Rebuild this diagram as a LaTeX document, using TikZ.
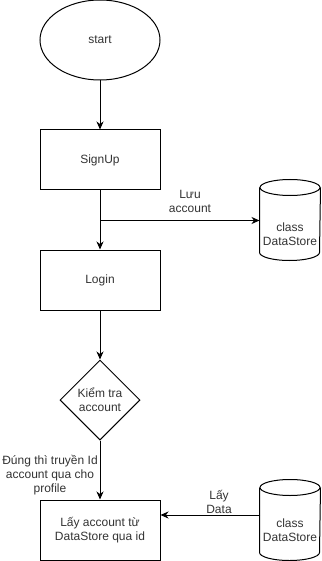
\documentclass[tikz,border=0pt]{standalone}
\usepackage{fontspec}
\setmainfont{Liberation Sans}
\usetikzlibrary{arrows.meta,shapes.geometric}
\begin{document}
\begin{tikzpicture}[x=1pt,y=1pt,
  font=\fontsize{12}{14}\selectfont,
  line width=1pt,
  every node/.style={align=center, text=black!80},
  box/.style={draw=black, text=black!80, minimum width=120pt, minimum height=60pt, inner sep=0pt},
  startshape/.style={draw=black, ellipse, minimum width=120pt, minimum height=80pt, inner sep=0pt},
  decision/.style={draw=black, diamond, minimum width=80pt, minimum height=80pt, inner sep=0pt, aspect=1},
  dbarea/.style={minimum width=60pt, minimum height=80pt, inner sep=0pt},
  flow/.style={-{Stealth[length=8pt,width=7pt,inset=2.5pt]}, draw=black},
  lbl/.style={inner sep=0pt}
]
\useasboundingbox (0,0) rectangle (321,-561);

% flow steps
\node[startshape] (start) at (100,-40) {start};
\node[box] (signup) at (100,-160) {SignUp};
\node[box] (login) at (100,-280) {Login};
\node[decision] (check) at (100,-400) {Kiểm tra\\account};
\node[box] (fetch) at (100,-530) {Lấy account từ\\DataStore qua id};

% data stores (cylinders drawn by hand around named areas)
\node[dbarea] (db1) at (290,-220) {};
\node[dbarea] (db2) at (290,-520) {};
\foreach \d in {db1,db2}{
  \draw[black] (\d.north) ++(0,-8) ellipse (30 and 8);
  \draw[black] (\d.north west) ++(0,-8) -- ([yshift=8pt]\d.south west)
     arc (180:360:30 and 8) -- ([yshift=-8pt]\d.north east);
}
\node[lbl] at (290,-234) {class\\DataStore};
\node[lbl] at (290,-530) {class\\DataStore};

% connectors
\coordinate (split) at (100,-220.5);
\draw[flow] (start) -- (signup);
\draw[flow] (signup) -- (login);
\draw[flow] (split) -- (db1.west |- split);
\draw[flow] (login) -- (check);
\draw[flow] (check) -- (fetch);
\coordinate (db2out) at (260,-515);
\draw[flow] (db2out) -- (fetch.east |- db2out);

% connector labels
\node[lbl] at (190,-201) {Lưu\\account};
\node[lbl] at (50,-475) {Đúng thì truyền Id\\account qua cho\\profile};
\node[lbl] at (219,-502) {Lấy\\Data};
\end{tikzpicture}
\end{document}
